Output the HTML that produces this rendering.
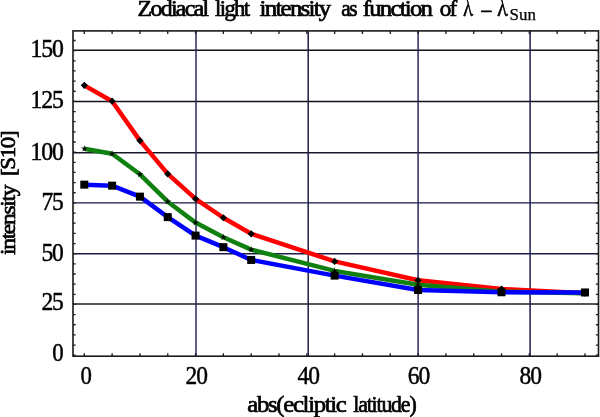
<!DOCTYPE html><html><head><meta charset="utf-8"><style>html,body{margin:0;padding:0;background:#fff}svg{display:block;filter:blur(0.3px)}</style></head><body>
<svg width="600" height="417" viewBox="0 0 600 417" font-family="Liberation Serif, Times New Roman, serif">
<rect width="600" height="417" fill="#fff"/>
<line x1="73.0" x2="598.5" y1="50.2" y2="50.2" stroke="#101018" stroke-width="1.4"/>
<line x1="73.0" x2="598.5" y1="101.45" y2="101.45" stroke="#10101c" stroke-width="1.4"/>
<line x1="73.0" x2="598.5" y1="152.8" y2="152.8" stroke="#181828" stroke-width="1.4"/>
<line x1="73.0" x2="598.5" y1="202.9" y2="202.9" stroke="#181840" stroke-width="1.4"/>
<line x1="73.0" x2="598.5" y1="253.8" y2="253.8" stroke="#1c1c48" stroke-width="1.4"/>
<line x1="73.0" x2="598.5" y1="304.0" y2="304.0" stroke="#1c1c2c" stroke-width="1.4"/>
<line y1="30.9" y2="356.2" x1="196.0" x2="196.0" stroke="#2a2860" stroke-width="1.5"/>
<line y1="30.9" y2="356.2" x1="308.2" x2="308.2" stroke="#1c1c48" stroke-width="1.5"/>
<line y1="30.9" y2="356.2" x1="418.1" x2="418.1" stroke="#2a2860" stroke-width="1.5"/>
<line y1="30.9" y2="356.2" x1="530.1" x2="530.1" stroke="#1c1c50" stroke-width="1.5"/>
<path d="M84.30,356.2v-3M84.30,30.9v3M112.11,356.2v-3M112.11,30.9v3M139.93,356.2v-3M139.93,30.9v3M167.75,356.2v-3M167.75,30.9v3M195.56,356.2v-3M195.56,30.9v3M223.38,356.2v-3M223.38,30.9v3M251.19,356.2v-3M251.19,30.9v3M279.00,356.2v-3M279.00,30.9v3M306.82,356.2v-3M306.82,30.9v3M334.63,356.2v-3M334.63,30.9v3M362.45,356.2v-3M362.45,30.9v3M390.26,356.2v-3M390.26,30.9v3M418.08,356.2v-3M418.08,30.9v3M445.89,356.2v-3M445.89,30.9v3M473.71,356.2v-3M473.71,30.9v3M501.52,356.2v-3M501.52,30.9v3M529.34,356.2v-3M529.34,30.9v3M557.15,356.2v-3M557.15,30.9v3M584.97,356.2v-3M584.97,30.9v3M73.0,355.20h2.6M598.5,355.20h-2.6M73.0,345.05h2.6M598.5,345.05h-2.6M73.0,334.90h2.6M598.5,334.90h-2.6M73.0,324.74h2.6M598.5,324.74h-2.6M73.0,314.59h2.6M598.5,314.59h-2.6M73.0,304.44h2.6M598.5,304.44h-2.6M73.0,294.29h2.6M598.5,294.29h-2.6M73.0,284.14h2.6M598.5,284.14h-2.6M73.0,273.98h2.6M598.5,273.98h-2.6M73.0,263.83h2.6M598.5,263.83h-2.6M73.0,253.68h2.6M598.5,253.68h-2.6M73.0,243.53h2.6M598.5,243.53h-2.6M73.0,233.38h2.6M598.5,233.38h-2.6M73.0,223.22h2.6M598.5,223.22h-2.6M73.0,213.07h2.6M598.5,213.07h-2.6M73.0,202.92h2.6M598.5,202.92h-2.6M73.0,192.77h2.6M598.5,192.77h-2.6M73.0,182.62h2.6M598.5,182.62h-2.6M73.0,172.46h2.6M598.5,172.46h-2.6M73.0,162.31h2.6M598.5,162.31h-2.6M73.0,152.16h2.6M598.5,152.16h-2.6M73.0,142.01h2.6M598.5,142.01h-2.6M73.0,131.86h2.6M598.5,131.86h-2.6M73.0,121.70h2.6M598.5,121.70h-2.6M73.0,111.55h2.6M598.5,111.55h-2.6M73.0,101.40h2.6M598.5,101.40h-2.6M73.0,91.25h2.6M598.5,91.25h-2.6M73.0,81.10h2.6M598.5,81.10h-2.6M73.0,70.94h2.6M598.5,70.94h-2.6M73.0,60.79h2.6M598.5,60.79h-2.6M73.0,50.64h2.6M598.5,50.64h-2.6M73.0,40.49h2.6M598.5,40.49h-2.6" stroke="#1a1a1a" stroke-width="1.3" fill="none"/>
<rect x="73.0" y="30.9" width="525.50" height="325.30" fill="none" stroke="#1a1a1a" stroke-width="1.6"/>
<path d="M84.30,85.36 L112.11,101.20 L139.93,140.59 L167.75,173.89 L195.56,198.86 L223.38,217.74 L251.19,233.78 L334.63,261.40 L418.08,280.28 L501.52,289.01 L584.97,293.27" fill="none" stroke="#ff0000" stroke-width="4.5" stroke-linejoin="round" stroke-linecap="butt"/>
<path d="M84.30,148.71 L112.11,153.78 L139.93,174.29 L167.75,201.70 L195.56,222.61 L223.38,237.23 L251.19,249.62 L334.63,270.94 L418.08,284.75 L501.52,291.65 L584.97,293.27" fill="none" stroke="#108010" stroke-width="4.5" stroke-linejoin="round" stroke-linecap="butt"/>
<path d="M84.30,184.65 L112.11,185.66 L139.93,196.63 L167.75,217.13 L195.56,235.61 L223.38,247.18 L251.19,259.97 L334.63,275.61 L418.08,290.02 L501.52,292.26 L584.97,292.46" fill="none" stroke="#0000ff" stroke-width="4.5" stroke-linejoin="round" stroke-linecap="butt"/>
<path d="M84.30,81.76L87.90,85.36L84.30,88.96L80.70,85.36Z" fill="#000"/>
<path d="M112.11,97.60L115.71,101.20L112.11,104.80L108.52,101.20Z" fill="#000"/>
<path d="M139.93,136.99L143.53,140.59L139.93,144.19L136.33,140.59Z" fill="#000"/>
<path d="M167.75,170.29L171.34,173.89L167.75,177.49L164.15,173.89Z" fill="#000"/>
<path d="M195.56,195.26L199.16,198.86L195.56,202.46L191.96,198.86Z" fill="#000"/>
<path d="M223.38,214.14L226.97,217.74L223.38,221.34L219.78,217.74Z" fill="#000"/>
<path d="M251.19,230.18L254.79,233.78L251.19,237.38L247.59,233.78Z" fill="#000"/>
<path d="M334.63,257.80L338.24,261.40L334.63,265.00L331.03,261.40Z" fill="#000"/>
<path d="M418.08,276.68L421.68,280.28L418.08,283.88L414.48,280.28Z" fill="#000"/>
<path d="M501.52,285.41L505.12,289.01L501.52,292.61L497.92,289.01Z" fill="#000"/>
<path d="M584.97,289.67L588.57,293.27L584.97,296.87L581.37,293.27Z" fill="#000"/>
<polygon points="84.30,145.11 85.01,147.74 87.72,147.60 85.44,149.08 86.42,151.62 84.30,149.91 82.18,151.62 83.16,149.08 80.88,147.60 83.59,147.74" fill="#000"/>
<polygon points="112.11,150.18 112.82,152.81 115.54,152.67 113.26,154.16 114.23,156.70 112.11,154.98 110.00,156.70 110.97,154.16 108.69,152.67 111.41,152.81" fill="#000"/>
<polygon points="139.93,170.69 140.64,173.32 143.35,173.18 141.07,174.66 142.05,177.20 139.93,175.49 137.81,177.20 138.79,174.66 136.51,173.18 139.22,173.32" fill="#000"/>
<polygon points="167.75,198.10 168.45,200.73 171.17,200.59 168.89,202.07 169.86,204.61 167.75,202.90 165.63,204.61 166.60,202.07 164.32,200.59 167.04,200.73" fill="#000"/>
<polygon points="195.56,219.01 196.27,221.64 198.98,221.50 196.70,222.99 197.68,225.53 195.56,223.81 193.44,225.53 194.42,222.99 192.14,221.50 194.85,221.64" fill="#000"/>
<polygon points="223.38,233.63 224.08,236.26 226.80,236.12 224.52,237.60 225.49,240.15 223.38,238.43 221.26,240.15 222.23,237.60 219.95,236.12 222.67,236.26" fill="#000"/>
<polygon points="251.19,246.02 251.90,248.65 254.61,248.51 252.33,249.99 253.31,252.53 251.19,250.82 249.07,252.53 250.05,249.99 247.77,248.51 250.48,248.65" fill="#000"/>
<polygon points="334.63,267.34 335.34,269.97 338.06,269.83 335.78,271.31 336.75,273.85 334.63,272.14 332.52,273.85 333.49,271.31 331.21,269.83 333.93,269.97" fill="#000"/>
<polygon points="418.08,281.15 418.79,283.77 421.50,283.63 419.22,285.12 420.20,287.66 418.08,285.95 415.96,287.66 416.94,285.12 414.66,283.63 417.37,283.77" fill="#000"/>
<polygon points="501.52,288.05 502.23,290.68 504.95,290.54 502.67,292.02 503.64,294.56 501.52,292.85 499.41,294.56 500.38,292.02 498.10,290.54 500.82,290.68" fill="#000"/>
<polygon points="584.97,289.67 585.68,292.30 588.39,292.16 586.11,293.64 587.09,296.19 584.97,294.47 582.85,296.19 583.83,293.64 581.55,292.16 584.26,292.30" fill="#000"/>
<rect x="80.30" y="180.65" width="8" height="8" fill="#000"/>
<rect x="108.11" y="181.66" width="8" height="8" fill="#000"/>
<rect x="135.93" y="192.63" width="8" height="8" fill="#000"/>
<rect x="163.75" y="213.13" width="8" height="8" fill="#000"/>
<rect x="191.56" y="231.61" width="8" height="8" fill="#000"/>
<rect x="219.38" y="243.18" width="8" height="8" fill="#000"/>
<rect x="247.19" y="255.97" width="8" height="8" fill="#000"/>
<rect x="330.63" y="271.61" width="8" height="8" fill="#000"/>
<rect x="414.08" y="286.02" width="8" height="8" fill="#000"/>
<rect x="497.52" y="288.26" width="8" height="8" fill="#000"/>
<rect x="580.97" y="288.46" width="8" height="8" fill="#000"/>
<text x="62.6" y="360.90" font-size="24.2" letter-spacing="-1.2" textLength="10.3" lengthAdjust="spacingAndGlyphs" text-anchor="end" fill="#000" stroke="#000" stroke-width="0.45">0</text>
<text x="62.6" y="310.00" font-size="24.2" letter-spacing="-1.2" textLength="21.2" lengthAdjust="spacingAndGlyphs" text-anchor="end" fill="#000" stroke="#000" stroke-width="0.45">25</text>
<text x="62.6" y="261.00" font-size="24.2" letter-spacing="-1.2" textLength="21.2" lengthAdjust="spacingAndGlyphs" text-anchor="end" fill="#000" stroke="#000" stroke-width="0.45">50</text>
<text x="62.6" y="209.70" font-size="24.2" letter-spacing="-1.2" textLength="21.2" lengthAdjust="spacingAndGlyphs" text-anchor="end" fill="#000" stroke="#000" stroke-width="0.45">75</text>
<text x="62.6" y="159.60" font-size="24.2" letter-spacing="-1.2" textLength="32.1" lengthAdjust="spacingAndGlyphs" text-anchor="end" fill="#000" stroke="#000" stroke-width="0.45">100</text>
<text x="62.6" y="108.45" font-size="24.2" letter-spacing="-1.2" textLength="32.1" lengthAdjust="spacingAndGlyphs" text-anchor="end" fill="#000" stroke="#000" stroke-width="0.45">125</text>
<text x="62.6" y="57.20" font-size="24.2" letter-spacing="-1.2" textLength="32.1" lengthAdjust="spacingAndGlyphs" text-anchor="end" fill="#000" stroke="#000" stroke-width="0.45">150</text>
<text x="85.60" y="383.8" font-size="24.5" letter-spacing="-1.2" textLength="10.3" lengthAdjust="spacingAndGlyphs" text-anchor="middle" fill="#000" stroke="#000" stroke-width="0.45">0</text>
<text x="196.20" y="383.8" font-size="24.5" letter-spacing="-1.2" textLength="21.2" lengthAdjust="spacingAndGlyphs" text-anchor="middle" fill="#000" stroke="#000" stroke-width="0.45">20</text>
<text x="308.20" y="383.8" font-size="24.5" letter-spacing="-1.2" textLength="21.2" lengthAdjust="spacingAndGlyphs" text-anchor="middle" fill="#000" stroke="#000" stroke-width="0.45">40</text>
<text x="418.40" y="383.8" font-size="24.5" letter-spacing="-1.2" textLength="21.2" lengthAdjust="spacingAndGlyphs" text-anchor="middle" fill="#000" stroke="#000" stroke-width="0.45">60</text>
<text x="530.20" y="383.8" font-size="24.5" letter-spacing="-1.2" textLength="21.2" lengthAdjust="spacingAndGlyphs" text-anchor="middle" fill="#000" stroke="#000" stroke-width="0.45">80</text>
<text x="137.6" y="16.3" font-size="22.8" letter-spacing="-1.6" textLength="69.9" lengthAdjust="spacingAndGlyphs" fill="#000" stroke="#000" stroke-width="0.7">Zodiacal</text>
<text x="215.0" y="16.3" font-size="22.8" letter-spacing="-1.6" textLength="33.5" lengthAdjust="spacingAndGlyphs" fill="#000" stroke="#000" stroke-width="0.7">light</text>
<text x="259.6" y="16.3" font-size="22.8" letter-spacing="-1.6" textLength="69.9" lengthAdjust="spacingAndGlyphs" fill="#000" stroke="#000" stroke-width="0.7">intensity</text>
<text x="341.2" y="16.3" font-size="22.8" letter-spacing="-1.6" textLength="14.8" lengthAdjust="spacingAndGlyphs" fill="#000" stroke="#000" stroke-width="0.7">as</text>
<text x="362.7" y="16.3" font-size="22.8" letter-spacing="-1.6" textLength="68.5" lengthAdjust="spacingAndGlyphs" fill="#000" stroke="#000" stroke-width="0.7">function</text>
<text x="439.7" y="16.3" font-size="22.8" letter-spacing="-1.6" textLength="16.0" lengthAdjust="spacingAndGlyphs" fill="#000" stroke="#000" stroke-width="0.7">of</text>
<text font-family="Noto Serif CJK SC, Liberation Serif, serif" x="463.3" y="16.3" font-size="22.8" letter-spacing="-1.6" textLength="8.5" lengthAdjust="spacingAndGlyphs" fill="#000" stroke="#000" stroke-width="0.7">λ</text>
<text x="480.3" y="19.3" font-size="22.8" letter-spacing="-1.6" textLength="10.8" lengthAdjust="spacingAndGlyphs" fill="#000" stroke="#000" stroke-width="0.7">−</text>
<text font-family="Noto Serif CJK SC, Liberation Serif, serif" x="497.3" y="16.3" font-size="22.8" letter-spacing="-1.6" textLength="9.2" lengthAdjust="spacingAndGlyphs" fill="#000" stroke="#000" stroke-width="0.7">λ</text>
<text x="509.6" y="20.2" font-size="17.5" textLength="26.3" lengthAdjust="spacingAndGlyphs" fill="#000" stroke="#000" stroke-width="0.25">Sun</text>
<text x="247.3" y="411.6" font-size="24" letter-spacing="-1.3" textLength="98.2" lengthAdjust="spacingAndGlyphs" fill="#000" stroke="#000" stroke-width="0.7">abs(ecliptic</text>
<text x="353.3" y="411.6" font-size="24" letter-spacing="-1.3" textLength="62.2" lengthAdjust="spacingAndGlyphs" fill="#000" stroke="#000" stroke-width="0.7">latitude)</text>
<text transform="translate(15.3,255) rotate(-90)" x="0" y="0" font-size="22" letter-spacing="-1.2" textLength="69.1" lengthAdjust="spacingAndGlyphs" fill="#000" stroke="#000" stroke-width="0.7">intensity</text>
<text transform="translate(15.3,255) rotate(-90)" x="78.9" y="0" font-size="22" letter-spacing="-1.2" textLength="44.5" lengthAdjust="spacingAndGlyphs" fill="#000" stroke="#000" stroke-width="0.7">[S10]</text>
</svg></body></html>
